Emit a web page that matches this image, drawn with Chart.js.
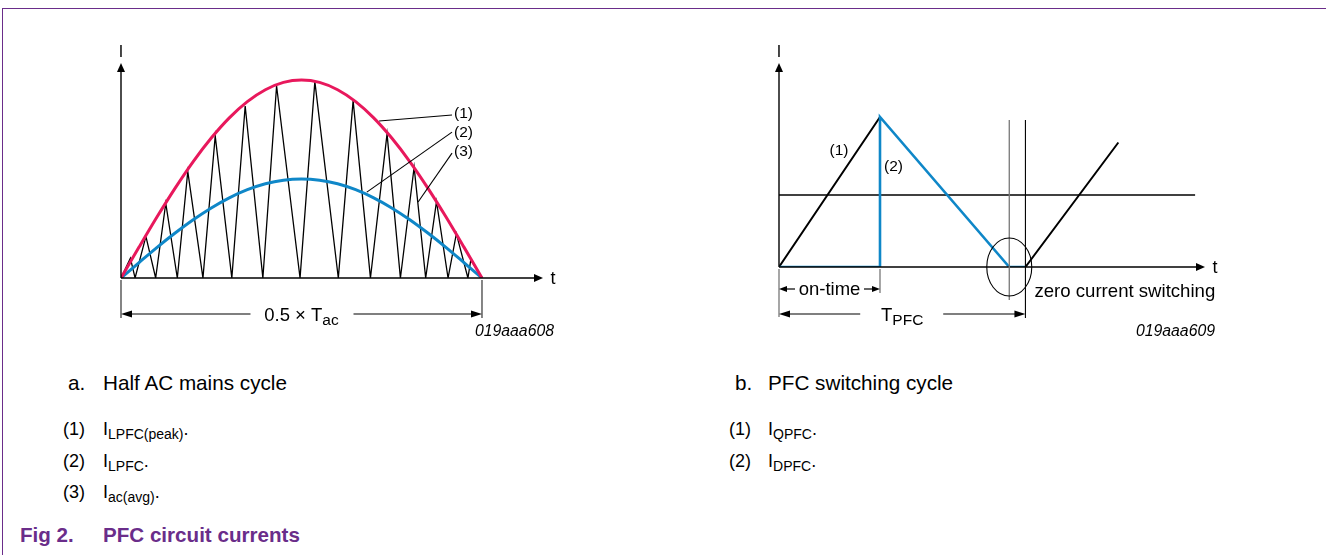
<!DOCTYPE html>
<html lang="en">
<head>
<meta charset="UTF-8">
<title>PFC circuit currents</title>
<script src="https://cdn.jsdelivr.net/npm/chart.js"></script>
<style>
    body { margin: 0; background: #fff; font-family: "Liberation Sans", Arial, sans-serif; }
    #page { position: relative; width: 1326px; height: 555px; overflow: hidden; }
    .frame-top { position: absolute; left: 2px; top: 8px; width: 1324px; height: 1px; background: #6a2d8a; }
    .frame-left { position: absolute; left: 2px; top: 8px; width: 1px; height: 547px; background: #6a2d8a; }
    .wrap { position: absolute; width: 460px; height: 310px; }
    .cap { position: absolute; font-size: 20.7px; line-height: 20px; white-space: nowrap; color: #000; }
    .note { position: absolute; font-size: 18px; line-height: 18px; white-space: nowrap; color: #000; }
    .note sub { font-size: 14px; line-height: 0; vertical-align: -4px; }
    .fig { position: absolute; font-size: 20.6px; line-height: 20px; font-weight: bold; color: #6a2d8a; white-space: nowrap; }
</style>
</head>
<body>
<div id="page">
    <div class="frame-top"></div>
    <div class="frame-left"></div>

    <div class="wrap" style="left:100px; top:30px;"><canvas id="halfCycle" width="460" height="310"></canvas></div>
    <div class="wrap" style="left:760px; top:30px;"><canvas id="switchCycle" width="460" height="310"></canvas></div>

    <!-- captions, left -->
    <div class="cap" style="left:68px; top:373px;">a.</div>
    <div class="cap" style="left:103px; top:373px;">Half AC mains cycle</div>
    <div class="note" style="left:63px; top:420px;">(1)</div>
    <div class="note" style="left:103px; top:420px;">I<sub>LPFC(peak)</sub>.</div>
    <div class="note" style="left:63px; top:452px;">(2)</div>
    <div class="note" style="left:103px; top:452px;">I<sub>LPFC</sub>.</div>
    <div class="note" style="left:63px; top:483px;">(3)</div>
    <div class="note" style="left:103px; top:483px;">I<sub>ac(avg)</sub>.</div>

    <!-- captions, right -->
    <div class="cap" style="left:735px; top:373px;">b.</div>
    <div class="cap" style="left:768px; top:373px;">PFC switching cycle</div>
    <div class="note" style="left:729px; top:420px;">(1)</div>
    <div class="note" style="left:768px; top:420px;">I<sub>QPFC</sub>.</div>
    <div class="note" style="left:729px; top:452px;">(2)</div>
    <div class="note" style="left:768px; top:452px;">I<sub>DPFC</sub>.</div>

    <div class="fig" style="left:20px; top:525px;">Fig 2.</div>
    <div class="fig" style="left:103px; top:525px;">PFC circuit currents</div>
</div>

<script>
    // ---- a. half AC mains cycle (time in % of 0.5 x Tac, current in % of peak) ----
    const envT = [0, 5, 10, 15, 20, 25, 30, 35, 40, 45, 50, 55, 60, 65, 70, 75, 80, 85, 90, 95, 100];
    const peakI = [0, 15.6, 30.9, 45.4, 58.8, 70.7, 80.9, 89.1, 95.1, 98.8, 100, 98.8, 95.1, 89.1, 80.9, 70.7, 58.8, 45.4, 30.9, 15.6, 0];
    const avgI = [0, 7.8, 15.5, 22.7, 29.4, 35.4, 40.5, 44.6, 47.6, 49.4, 50, 49.4, 47.6, 44.6, 40.5, 35.4, 29.4, 22.7, 15.5, 7.8, 0];
    const triT = [0, 2.6, 3.9, 6.9, 9.6, 12.4, 15.6, 18.5, 22.7, 26.1, 30.7, 34.4, 39.3, 43.1, 49.6, 53.7,
                  60.2, 64.3, 69.1, 73.7, 77.4, 81.2, 84.4, 87.4, 90.6, 92.9, 96.1, 96.9, 100];
    const triI = [0, 10, 0, 21, 0, 37.8, 0, 53.8, 0, 71.8, 0, 86.9, 0, 97, 0, 99.2,
                  0, 89.6, 0, 72.8, 0, 56, 0, 38.7, 0, 22.4, 0, 9.2, 0];

    // ---- b. PFC switching cycle (time units, on-time = 10; current, peak = 10) ----
    const qpfcT = [0, 10, 17, 24.4, 33.6];
    const qpfcI = [0, 10, null, 0, 8.3];
    const dpfcT = [0, 10, 10, 22.8, 24.4];
    const dpfcI = [0, 0, 10, 0, 0];
    const meanT = [0, 41.2];
    const meanI = [4.8, 4.8];

    const RED = '#e8185c';
    const BLUE = '#0f87c8';
    const FONT = '"Liberation Sans", Arial, sans-serif';

    function pts(xs, ys) {
        return xs.map((x, i) => ({ x: x, y: ys[i] }));
    }

    function seg(ctx, x1, y1, x2, y2, color, w) {
        ctx.save();
        ctx.strokeStyle = color;
        ctx.lineWidth = w;
        ctx.beginPath();
        ctx.moveTo(x1, y1);
        ctx.lineTo(x2, y2);
        ctx.stroke();
        ctx.restore();
    }

    function head(ctx, x, y, dir, len, half) {
        ctx.beginPath();
        ctx.moveTo(x, y);
        if (dir === 'up') { ctx.lineTo(x - half, y + len); ctx.lineTo(x + half, y + len); }
        else if (dir === 'right') { ctx.lineTo(x - len, y - half); ctx.lineTo(x - len, y + half); }
        else { ctx.lineTo(x + len, y - half); ctx.lineTo(x + len, y + half); }
        ctx.closePath();
        ctx.fill();
    }

    // main text followed by a lowered subscript, centred on cx
    function subLabel(ctx, main, sub, cx, base) {
        ctx.font = '18.5px ' + FONT;
        const w1 = ctx.measureText(main).width;
        ctx.font = '15.5px ' + FONT;
        const w2 = ctx.measureText(sub).width;
        const left = cx - (w1 + w2) / 2;
        ctx.textAlign = 'left';
        ctx.font = '18.5px ' + FONT;
        ctx.fillText(main, left, base);
        ctx.font = '15.5px ' + FONT;
        ctx.fillText(sub, left + w1, base + 4);
    }

    function axes(ctx, chart) {
        const { x, y } = chart.scales;
        const x0 = x.getPixelForValue(0), y0 = y.getPixelForValue(0);
        const a = chart.chartArea;
        ctx.fillStyle = '#000';
        seg(ctx, x0, y0, x0, a.top + 4, '#000', 1.4);
        head(ctx, x0, a.top, 'up', 9, 4);
        seg(ctx, x0, y0, a.right - 4, y0, '#000', 1.4);
        head(ctx, a.right, y0, 'right', 9, 4);
        ctx.font = '16px ' + FONT;
        ctx.textAlign = 'center';
        ctx.fillText('I', x0, a.top - 6);
        ctx.font = '18px ' + FONT;
        ctx.fillText('t', a.right + 10, y0 + 6);
        return { x0, y0 };
    }

    const halfDecor = {
        id: 'halfDecor',
        afterDatasetsDraw(chart) {
            const ctx = chart.ctx;
            const { x, y } = chart.scales;
            ctx.save();
            const { x0, y0 } = axes(ctx, chart);
            const x1 = x.getPixelForValue(100);
            const dimY = y0 + 36;

            // 0.5 x Tac dimension
            seg(ctx, x0, y0 + 2, x0, y0 + 40, '#333', 1.2);
            seg(ctx, x1, y0 + 2, x1, y0 + 40, '#333', 1.2);
            const mid = x.getPixelForValue(50);
            seg(ctx, x0 + 8, dimY, mid - 51, dimY, '#000', 1.2);
            seg(ctx, mid + 52, dimY, x1 - 8, dimY, '#000', 1.2);
            ctx.fillStyle = '#000';
            head(ctx, x0, dimY, 'left', 11, 3.5);
            head(ctx, x1, dimY, 'right', 11, 3.5);
            subLabel(ctx, '0.5 \u00d7 T', 'ac', mid, dimY + 7);

            // leaders (1) (2) (3)
            const leaders = [
                ['(1)', 91.7, 82.3, 71.5, 79.3, 80.8],
                ['(2)', 91.7, 73.7, 68.1, 43.4, 71.2],
                ['(3)', 91.7, 63.1, 82.3, 38.4, 61.6]
            ];
            ctx.font = '15.5px ' + FONT;
            ctx.textAlign = 'left';
            leaders.forEach(([txt, lx, ly, px, py, ty]) => {
                seg(ctx, x.getPixelForValue(lx), y.getPixelForValue(ly),
                    x.getPixelForValue(px), y.getPixelForValue(py), '#000', 1.1);
                ctx.fillText(txt, x.getPixelForValue(lx) + 2, y.getPixelForValue(ty));
            });

            ctx.font = 'italic 15.8px ' + FONT;
            ctx.textAlign = 'right';
            ctx.fillText('019aaa608', 454, 306);
            ctx.restore();
        }
    };

    const switchDecor = {
        id: 'switchDecor',
        afterDatasetsDraw(chart) {
            const ctx = chart.ctx;
            const { x, y } = chart.scales;
            ctx.save();
            const { x0, y0 } = axes(ctx, chart);
            const xOn = x.getPixelForValue(10);
            const xZero = x.getPixelForValue(22.8);
            const xNext = x.getPixelForValue(24.4);
            const top = y.getPixelForValue(9.8);

            // guides at zero current
            seg(ctx, xZero, top, xZero, y0 + 33, '#777', 1.3);
            seg(ctx, xNext, top, xNext, y0 + 51, '#000', 1.1);
            ctx.beginPath();
            ctx.ellipse(xZero, y0, 22.5, 29, 0, 0, Math.PI * 2);
            ctx.strokeStyle = '#000';
            ctx.lineWidth = 1.1;
            ctx.stroke();

            // on-time dimension
            const onY = y0 + 22;
            seg(ctx, x0, y0 + 2, x0, y0 + 50, '#777', 1.3);
            seg(ctx, xOn, y0 + 2, xOn, y0 + 26, '#777', 1.3);
            ctx.fillStyle = '#000';
            seg(ctx, x0 + 6, onY, x0 + 16, onY, '#000', 1.2);
            seg(ctx, xOn - 16, onY, xOn - 6, onY, '#000', 1.2);
            head(ctx, x0, onY, 'left', 8, 3);
            head(ctx, xOn, onY, 'right', 8, 3);
            ctx.font = '18.5px ' + FONT;
            ctx.textAlign = 'center';
            ctx.fillText('on-time', (x0 + xOn) / 2, onY + 6);

            // TPFC dimension
            const tY = y0 + 47;
            const tMid = (x0 + xNext) / 2;
            seg(ctx, x0 + 8, tY, tMid - 42, tY, '#000', 1.2);
            seg(ctx, tMid + 41, tY, xNext - 8, tY, '#000', 1.2);
            head(ctx, x0, tY, 'left', 11, 3.5);
            head(ctx, xNext, tY, 'right', 11, 3.5);
            subLabel(ctx, 'T', 'PFC', tMid, tY + 7);

            ctx.font = '18.6px ' + FONT;
            ctx.textAlign = 'left';
            ctx.fillText('zero current switching', xNext + 9, y0 + 30);

            ctx.font = '15.5px ' + FONT;
            ctx.fillText('(1)', x.getPixelForValue(5), y.getPixelForValue(7.5));
            ctx.fillText('(2)', x.getPixelForValue(10.4), y.getPixelForValue(6.4));

            ctx.font = 'italic 15.8px ' + FONT;
            ctx.textAlign = 'right';
            ctx.fillText('019aaa609', 455, 306);
            ctx.restore();
        }
    };

    const baseOptions = (xMax, yMax, pad) => ({
        responsive: false,
        animation: false,
        events: [],
        layout: { padding: pad },
        plugins: { legend: { display: false }, tooltip: { enabled: false } },
        elements: { point: { radius: 0 } },
        scales: {
            x: { type: 'linear', min: 0, max: xMax, display: false },
            y: { type: 'linear', min: 0, max: yMax, display: false }
        }
    });

    new Chart(document.getElementById('halfCycle').getContext('2d'), {
        type: 'line',
        data: {
            datasets: [
                { label: 'ILPFC(peak)', data: pts(envT, peakI), borderColor: RED, borderWidth: 3, tension: 0.3, order: 1 },
                { label: 'Iac(avg)', data: pts(envT, avgI), borderColor: BLUE, borderWidth: 3, tension: 0.3, order: 2 },
                { label: 'ILPFC', data: pts(triT, triI), borderColor: '#000', borderWidth: 1.3, tension: 0, order: 3 }
            ]
        },
        options: baseOptions(116.9, 108.6, { left: 21, right: 17, top: 33, bottom: 62 }),
        plugins: [halfDecor]
    });

    new Chart(document.getElementById('switchCycle').getContext('2d'), {
        type: 'line',
        data: {
            datasets: [
                { label: 'IDPFC', data: pts(dpfcT, dpfcI), borderColor: BLUE, borderWidth: 2.6, borderJoinStyle: 'miter', order: 1 },
                { label: 'IQPFC', data: pts(qpfcT, qpfcI), borderColor: '#000', borderWidth: 2, spanGaps: false, order: 2 },
                { label: 'mean', data: pts(meanT, meanI), borderColor: '#000', borderWidth: 1.3, order: 3 }
            ]
        },
        options: baseOptions(42.18, 13.6, { left: 19, right: 15, top: 33, bottom: 73 }),
        plugins: [switchDecor]
    });
</script>
</body>
</html>
